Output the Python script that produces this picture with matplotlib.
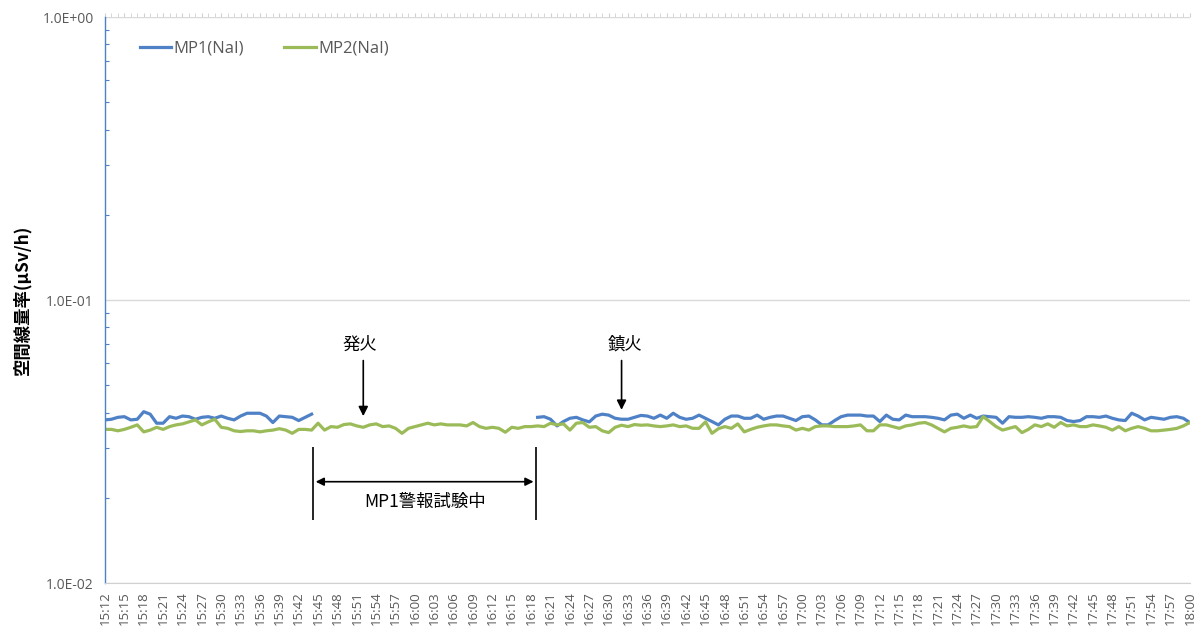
import numpy as np
import matplotlib
matplotlib.use("Agg")
import matplotlib.pyplot as plt
from matplotlib.ticker import FixedLocator, LogLocator, NullFormatter

plt.rcParams['font.family'] = ['Noto Sans CJK JP', 'DejaVu Sans']

# one reading per minute, 15:12 .. 18:00
start_min = 15 * 60 + 12
end_min = 18 * 60
times = [f"{m // 60}:{m % 60:02d}" for m in range(start_min, end_min + 1)]

# MP1 was under alarm test 15:45-16:18 -> no readings
mp1 = [0.0377, 0.0379, 0.0385, 0.0387, 0.0377, 0.0379, 0.0403, 0.0395, 0.0367, 0.0367,
       0.0387, 0.0382, 0.0389, 0.0387, 0.0379, 0.0385, 0.0387, 0.0382, 0.0389, 0.0382,
       0.0377, 0.0389, 0.0398, 0.0398, 0.0398, 0.0389, 0.0369, 0.0389, 0.0387, 0.0385,
       0.0375, 0.0385, 0.0395] + [np.nan] * 34 + \
      [0.0385, 0.0387, 0.0379, 0.0359, 0.0372, 0.0382, 0.0385, 0.0377, 0.0371, 0.0389,
       0.0395, 0.0392, 0.0382, 0.0379, 0.0379, 0.0385, 0.0391,
       0.0389, 0.0382, 0.0392, 0.0382, 0.0398, 0.0385, 0.0379, 0.0382, 0.0392, 0.0382,
       0.0372, 0.0362, 0.0379, 0.0389, 0.0389, 0.0382, 0.0382, 0.0392, 0.0379, 0.0385,
       0.0389, 0.0389, 0.0382, 0.0375, 0.0387, 0.0389, 0.0377, 0.0362, 0.0362, 0.0375,
       0.0387, 0.0392, 0.0392, 0.0392, 0.0389, 0.0389, 0.0372, 0.0392, 0.0379, 0.0377,
       0.0392, 0.0387,
       0.0387, 0.0387, 0.0385, 0.0382, 0.0377, 0.0392, 0.0395, 0.0382, 0.0392, 0.0382,
       0.0389, 0.0387, 0.0385, 0.0367, 0.0387, 0.0385, 0.0385, 0.0387, 0.0385, 0.0382,
       0.0387, 0.0387, 0.0385, 0.0375, 0.0372, 0.0375, 0.0387, 0.0387, 0.0385, 0.0389,
       0.0382, 0.0377, 0.0375, 0.0398, 0.0389, 0.0377, 0.0385, 0.0382, 0.0379, 0.0385,
       0.0387, 0.0382, 0.0369]

mp2 = [0.0349, 0.0349, 0.0345, 0.0349, 0.0355, 0.0362, 0.0342, 0.0347, 0.0355, 0.0349,
       0.0357, 0.0362, 0.0365, 0.0371, 0.0377, 0.0362, 0.0371, 0.0379, 0.0355, 0.0352,
       0.0345, 0.0343, 0.0345, 0.0345, 0.0342, 0.0345, 0.0347, 0.0351, 0.0347, 0.0338,
       0.0349, 0.0349, 0.0347,
       0.0367, 0.0347, 0.0357, 0.0355, 0.0363, 0.0365, 0.0359, 0.0355, 0.0362,
       0.0365, 0.0357, 0.0359, 0.0352, 0.0338, 0.0352, 0.0357, 0.0362, 0.0367, 0.0362,
       0.0365, 0.0362, 0.0362, 0.0362, 0.0359, 0.0369, 0.0357, 0.0352, 0.0355, 0.0352,
       0.0341, 0.0355, 0.0352, 0.0357, 0.0357, 0.0359, 0.0357, 0.0367, 0.0362, 0.0365,
       0.0347, 0.0367, 0.0369, 0.0355, 0.0357, 0.0345, 0.0340, 0.0355, 0.0361, 0.0357,
       0.0363, 0.0361,
       0.0362, 0.0359, 0.0357, 0.0359, 0.0362, 0.0357, 0.0359, 0.0352, 0.0352, 0.0371,
       0.0338, 0.0351, 0.0357, 0.0352, 0.0365, 0.0342, 0.0349, 0.0355, 0.0359, 0.0362,
       0.0362, 0.0359, 0.0357, 0.0347, 0.0352, 0.0347, 0.0357, 0.0359, 0.0359, 0.0357,
       0.0357, 0.0357, 0.0359, 0.0362, 0.0345, 0.0345, 0.0362, 0.0362, 0.0357, 0.0352,
       0.0359, 0.0362,
       0.0367, 0.0369, 0.0362, 0.0352, 0.0342, 0.0352, 0.0355, 0.0359, 0.0355, 0.0357,
       0.0387, 0.0372, 0.0357, 0.0347, 0.0352, 0.0357, 0.0340, 0.0349, 0.0362, 0.0357,
       0.0365, 0.0355, 0.0369, 0.0359, 0.0362, 0.0357, 0.0357, 0.0362, 0.0359, 0.0355,
       0.0347, 0.0357, 0.0345, 0.0352, 0.0357, 0.0352, 0.0345, 0.0345, 0.0347, 0.0349,
       0.0352, 0.0359, 0.0369]

ytick_vals = [0.01, 0.1, 1.0]
ytick_labels = ["1.0E-02", "1.0E-01", "1.0E+00"]

ignition = "15:52"     # 発火
extinguish = "16:32"   # 鎮火
test_from, test_to = "15:44", "16:19"

blue = '#4f81c6'
green = '#9bbb59'
txt_gray = '#595959'
latin = ['Open Sans', 'DejaVu Sans']

x = np.arange(len(times))
fig = plt.figure(figsize=(11.97, 6.30), dpi=100)
ax = fig.add_axes([0.0877, 0.0746, 0.9063, 0.8984])

ax.plot(x, mp1, color=blue, lw=2.3, label='MP1(NaI)')
ax.plot(x, mp2, color=green, lw=2.3, label='MP2(NaI)')

ax.set_yscale('log')
ax.set_ylim(0.01, 1.0)
ax.set_xlim(0, len(times) - 1)
ax.yaxis.set_major_locator(FixedLocator(ytick_vals))
ax.set_yticklabels(ytick_labels, family=latin)
ax.yaxis.set_minor_locator(LogLocator(base=10, subs=np.arange(2, 10)))
ax.yaxis.set_minor_formatter(NullFormatter())
ax.tick_params(axis='y', which='major', labelsize=10, labelcolor=txt_gray,
               length=0, pad=8)
ax.tick_params(axis='y', which='minor', direction='in', length=3, color=blue, width=0.8)

ax.set_xticks(x[::3])
ax.set_xticklabels(times[::3], rotation=90, family=latin)
ax.set_xticks(x, minor=True)
ax.tick_params(axis='x', which='both', bottom=False, top=True, length=3,
               color='#d0d0d0', labelsize=9.5, labelcolor=txt_gray, pad=3)

ax.grid(axis='y', which='major', color='#d9d9d9', lw=1)
for side in ['top', 'right']:
    ax.spines[side].set_visible(False)
ax.spines['left'].set_color(blue)
ax.spines['left'].set_linewidth(1)
ax.spines['bottom'].set_color('#d0d0d0')

ax.set_ylabel('空間線量率(μSv/h)', fontsize=12.5, fontweight='bold', labelpad=8)

leg = ax.legend(loc='upper left', bbox_to_anchor=(0.018, 0.985), ncol=2, frameon=False,
                prop={'family': latin, 'size': 12}, handlelength=1.9,
                columnspacing=2.4, handletextpad=0.15)
for t in leg.get_texts():
    t.set_color(txt_gray)

# event markers
i_ign = times.index(ignition)
i_ext = times.index(extinguish)
arrow = dict(arrowstyle='-|>', color='black', lw=1.2, mutation_scale=14)
ax.annotate('', xy=(i_ign, 0.0380), xytext=(i_ign, 0.0625), arrowprops=arrow)
ax.text(i_ign - 0.6, 0.0695, '発火', ha='center', va='center', fontsize=12.5)
ax.annotate('', xy=(i_ext, 0.0400), xytext=(i_ext, 0.0625), arrowprops=arrow)
ax.text(i_ext + 0.6, 0.0695, '鎮火', ha='center', va='center', fontsize=12.5)

# alarm test span
i0, i1 = times.index(test_from), times.index(test_to)
ax.vlines([i0 + 0.2, i1 - 0.2], 0.0167, 0.0302, color='black', lw=1.2)
ax.annotate('', xy=(i0 + 0.2, 0.0228), xytext=(i1 - 0.2, 0.0228),
            arrowprops=dict(arrowstyle='<|-|>', color='black', lw=1.2, mutation_scale=12))
ax.text((i0 + i1) / 2, 0.0193, 'MP1警報試験中', ha='center', va='center', fontsize=12.5)

fig.savefig('out.png', dpi=100)
